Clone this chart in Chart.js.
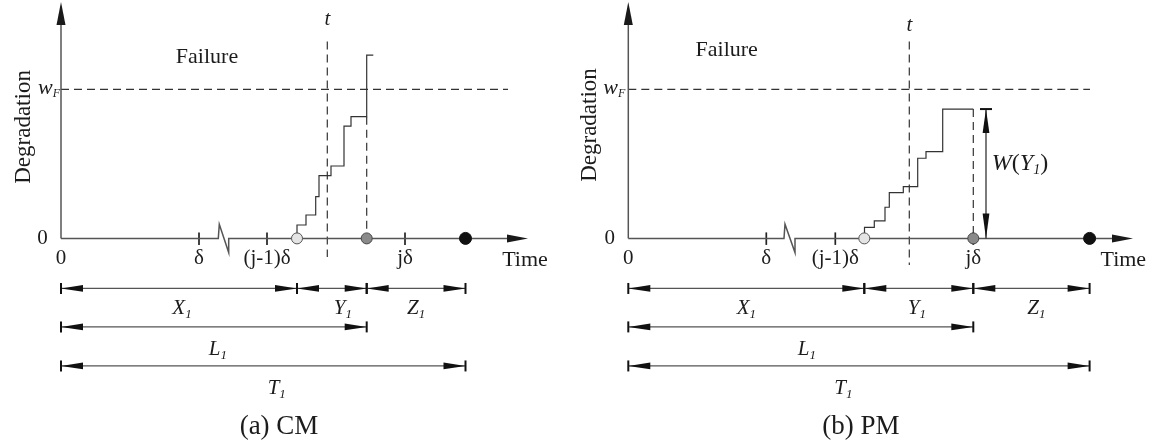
<!DOCTYPE html>
<html><head><meta charset="utf-8">
<script src="https://cdn.jsdelivr.net/npm/chart.js@4.4.0/dist/chart.umd.min.js"></script>
<style>
html,body{margin:0;padding:0;background:#fff;overflow:hidden}
#wrap{display:flex;width:1155px;height:447px}
canvas{display:block}
</style></head><body>
<div id="wrap"><canvas id="cm" width="577" height="447"></canvas><canvas id="pm" width="578" height="447"></canvas></div>
<script>
// ---------------- data ----------------
const panelCaptions = ['(a) CM', '(b) PM'];
const xTickLabels = ['0', 'δ', '(j-1)δ', 'jδ'];
const yAxisLabel = 'Degradation';
const xAxisLabel = 'Time';
const regionLabel = 'Failure';
const failureLevel = 10;                       // w_F

// (a) CM
const cmTickTimes = [0, 13.8, 20.6, 34.4];
const cmStepTimes  = [23.6, 23.6, 24.5, 25.47, 25.8, 27.0, 28.3, 29.0, 30.57, 31.23];
const cmStepLevels = [0, 0.90, 1.57, 2.80, 4.21, 4.86, 7.54, 8.17, 12.30, 12.30];
const cmEventTimes = [23.6, 30.57, 40.45];     // X1 end, L1 end, T1 end
const cmInspection = 26.63;                    // t
const cmBreak = [15.73, 16.77];
const cmAxisEnd = 46.7;
const cmThresholdEnd = 44.7;

// (b) PM
const pmTickTimes = [0, 13.8, 20.7, 34.5];
const pmStepTimes  = [23.62, 23.62, 24.6, 25.67, 26.1, 27.5, 28.94, 29.77, 31.44, 34.5];
const pmStepLevels = [0, 0.745, 1.17, 2.09, 3.07, 3.47, 5.38, 5.82, 8.68, 8.68];
const pmEventTimes = [23.6, 34.5, 46.13];
const pmInspection = 28.1;
const pmBreak = [15.57, 16.67];
const pmAxisEnd = 50.47;
const pmThresholdEnd = 46.17;

const intervalNames = ['X', 'Y', 'Z', 'L', 'T'];
const intervalIndex = '1';

// ---------------- layout / style ----------------
const serif = '"Liberation Serif", "Times New Roman", serif';
const ink = '#1c1c1c';
const rows = { x: -3.36, l: -5.94, t: -8.56, labX: -4.58, labL: -7.38, labT: -9.95, caption: -12.64, tick: -1.32 };

const panels = [
  { id: 'cm', xMin: -6.1, xMax: 51.6, ticks: cmTickTimes, stepT: cmStepTimes, stepY: cmStepLevels,
    ev: cmEventTimes, insp: cmInspection, brk: cmBreak, axisEnd: cmAxisEnd, thrEnd: cmThresholdEnd,
    caption: panelCaptions[0], capX: 21.8, failure: [14.6, 12.17], degr: [-3.7, 7.48], tY: 14.72,
    tBottom: -1.25, timeX: 46.4, labShift: { X: 0.3, Y: 1.1, Z: 0, L: 0.4, T: 1.35 }, wfX: -2.3, zeroX: -1.85, showW: false },
  { id: 'pm', xMin: -5.13, xMax: 52.67, ticks: pmTickTimes, stepT: pmStepTimes, stepY: pmStepLevels,
    ev: pmEventTimes, insp: pmInspection, brk: pmBreak, axisEnd: pmAxisEnd, thrEnd: pmThresholdEnd,
    caption: panelCaptions[1], capX: 23.27, failure: [9.84, 12.64], degr: [-3.83, 7.61], tY: 14.32,
    tBottom: -1.79, timeX: 49.5, labShift: { X: 0, Y: -0.2, Z: 0.5, L: 0.6, T: -1.55 }, wfX: -2.5, zeroX: -1.85, showW: true }
];

function fontOf(r) { return `${r.italic ? 'italic ' : ''}${r.size}px ${serif}`; }
function drawRuns(ctx, runs, x, yBase, align) {
  ctx.save(); ctx.fillStyle = ink; ctx.textBaseline = 'alphabetic'; ctx.textAlign = 'left';
  const w = runs.map(r => { ctx.font = fontOf(r); return ctx.measureText(r.t).width + (r.kern || 0); });
  const total = w.reduce((a, b) => a + b, 0);
  let cx = align === 'left' ? x : align === 'right' ? x - total : x - total / 2;
  runs.forEach((r, i) => { ctx.font = fontOf(r); ctx.fillText(r.t, cx, yBase + (r.dy || 0)); cx += w[i]; });
  ctx.restore();
}
function drawText(ctx, s, x, y, size, o = {}) {
  ctx.save();
  ctx.font = fontOf({ size, italic: o.italic });
  ctx.fillStyle = ink; ctx.textAlign = o.align || 'center'; ctx.textBaseline = 'middle';
  if (o.rotate) { ctx.translate(x, y); ctx.rotate(o.rotate); ctx.fillText(s, 0, 0); }
  else ctx.fillText(s, x, y);
  ctx.restore();
}
function head(ctx, tx, ty, dx, dy, len, hw, color) {
  const bx = tx - dx * len, by = ty - dy * len, nx = -dy, ny = dx;
  ctx.beginPath(); ctx.moveTo(tx, ty);
  ctx.lineTo(bx + nx * hw, by + ny * hw); ctx.lineTo(bx - nx * hw, by - ny * hw);
  ctx.closePath(); ctx.fillStyle = color; ctx.fill();
}
function subLabel(ctx, name, x, yMid, size) {
  drawRuns(ctx, [{ t: name, size, italic: true }, { t: intervalIndex, size: Math.round(size * 0.6), italic: true, dy: 4 }], x, yMid + size * 0.33, 'center');
}

const schematic = {
  id: 'schematic',
  beforeDatasetsDraw(chart) {
    const p = chart.config.options.plugins.schematic.panel;
    const ctx = chart.ctx, X = v => chart.scales.x.getPixelForValue(v), Y = v => chart.scales.y.getPixelForValue(v);
    ctx.save(); ctx.strokeStyle = '#222'; ctx.lineWidth = 1.7;
    p.ticks.slice(1).forEach(t => { ctx.beginPath(); ctx.moveTo(X(t), Y(0) - 6); ctx.lineTo(X(t), Y(0) + 6.5); ctx.stroke(); });
    ctx.restore();
  },
  afterDatasetsDraw(chart) {
    const p = chart.config.options.plugins.schematic.panel;
    const ctx = chart.ctx, X = v => chart.scales.x.getPixelForValue(v), Y = v => chart.scales.y.getPixelForValue(v);
    // axis arrowheads
    head(ctx, X(0), Y(15.87), 0, -1, 23, 4.5, '#1a1a1a');
    head(ctx, X(p.axisEnd), Y(0), 1, 0, 21, 4, '#1a1a1a');
    // dimension rows
    const [xe, le, te] = p.ev;
    const dim = (a, b, r) => {
      const xa = X(a), xb = X(b), y = Y(r);
      ctx.save(); ctx.strokeStyle = '#555'; ctx.lineWidth = 1.3;
      ctx.beginPath(); ctx.moveTo(xa, y); ctx.lineTo(xb, y); ctx.stroke();
      head(ctx, xa, y, -1, 0, 22, 3.4, '#111'); head(ctx, xb, y, 1, 0, 22, 3.4, '#111');
      ctx.strokeStyle = '#111'; ctx.lineWidth = 2;
      [xa, xb].forEach(xx => { ctx.beginPath(); ctx.moveTo(xx, y - 5.5); ctx.lineTo(xx, y + 5.5); ctx.stroke(); });
      ctx.restore();
    };
    dim(0, xe, rows.x); dim(xe, le, rows.x); dim(le, te, rows.x);
    dim(0, le, rows.l); dim(0, te, rows.t);
    const s = p.labShift;
    subLabel(ctx, intervalNames[0], X(xe / 2 + s.X), Y(rows.labX), 21);
    subLabel(ctx, intervalNames[1], X((xe + le) / 2 + s.Y), Y(rows.labX), 21);
    subLabel(ctx, intervalNames[2], X((le + te) / 2 + s.Z), Y(rows.labX), 21);
    subLabel(ctx, intervalNames[3], X(le / 2 + s.L), Y(rows.labL), 21);
    subLabel(ctx, intervalNames[4], X(te / 2 + s.T), Y(rows.labT), 21);
    // W(Y1) arrow
    if (p.showW) {
      const top = p.stepY[p.stepY.length - 1], wx = X(le + 1.27);
      ctx.save(); ctx.strokeStyle = '#333'; ctx.lineWidth = 1.3;
      ctx.beginPath(); ctx.moveTo(wx, Y(0)); ctx.lineTo(wx, Y(top)); ctx.stroke();
      ctx.strokeStyle = '#111'; ctx.lineWidth = 2;
      ctx.beginPath(); ctx.moveTo(wx - 6, Y(top)); ctx.lineTo(wx + 6, Y(top)); ctx.stroke();
      head(ctx, wx, Y(top), 0, -1, 24, 3.4, '#111'); head(ctx, wx, Y(0), 0, 1, 25, 3.4, '#111');
      ctx.restore();
      drawRuns(ctx, [{ t: 'W', size: 24, italic: true }, { t: '(', size: 24 }, { t: 'Y', size: 24, italic: true },
        { t: intervalIndex, size: 14, italic: true, dy: 4 }, { t: ')', size: 24 }], X(le + 1.85), Y(5.15) + 8, 'left');
    }
    // texts
    drawText(ctx, regionLabel, X(p.failure[0]), Y(p.failure[1]), 22);
    drawText(ctx, yAxisLabel, X(p.degr[0]), Y(p.degr[1]), 23, { rotate: -Math.PI / 2 });
    drawText(ctx, xTickLabels[0], X(p.zeroX), Y(0), 21);
    p.ticks.forEach((t, i) => drawText(ctx, xTickLabels[i], X(t), Y(rows.tick), 21));
    drawText(ctx, xAxisLabel, X(p.timeX), Y(rows.tick) + 2, 22);
    drawText(ctx, 't', X(p.insp), Y(p.tY), 21, { italic: true });
    drawRuns(ctx, [{ t: 'w', size: 22, italic: true }, { t: 'F', size: 12, italic: true, dy: 3 }], X(p.wfX), Y(failureLevel) + 5, 'left');
    drawText(ctx, p.caption, X(p.capX), Y(rows.caption), 27);
  }
};

function build(p) {
  const pts = (xs, ys) => xs.map((x, i) => ({ x, y: ys[i] }));
  const lastL = p.stepT.lastIndexOf(p.ev[1]);
  const dropTop = p.stepY[Math.max(lastL - 1, 0)];
  const axisPts = [{ x: 0, y: 0 }, { x: p.brk[0], y: 0 }, { x: p.brk[0] + 0.1, y: 0.95 }, { x: p.brk[1], y: -0.95 }, { x: p.brk[1], y: 0 }, { x: p.axisEnd - 1, y: 0 }];
  const line = (data, extra) => Object.assign({ data, pointRadius: 0, borderWidth: 1.2, borderColor: '#333', showLine: true, clip: false, fill: false, tension: 0 }, extra);
  return new Chart(document.getElementById(p.id), {
    type: 'line',
    data: {
      datasets: [
        { data: p.ev.map(x => ({ x, y: 0 })), showLine: false, pointRadius: [5.5, 5.5, 6], pointBorderWidth: 1,
          pointBackgroundColor: ['#e4e4e4', '#8a8a8a', '#111'], pointBorderColor: ['#555', '#444', '#111'], order: 0, clip: false },
        line(pts(p.stepT, p.stepY), { stepped: 'before', borderColor: '#333', order: 1 }),
        line(axisPts, { borderColor: '#555', borderWidth: 1.5, order: 2 }),
        line([{ x: 0, y: 0 }, { x: 0, y: 14.6 }], { borderColor: '#555', borderWidth: 1.5, order: 2 }),
        line([{ x: 0, y: failureLevel }, { x: p.thrEnd, y: failureLevel }], { borderDash: [8, 5], order: 3 }),
        line([{ x: p.insp, y: 13.21 }, { x: p.insp, y: p.tBottom }], { borderDash: [8, 5], order: 3 }),
        line([{ x: p.ev[1], y: dropTop }, { x: p.ev[1], y: 0 }], { borderDash: [8, 5], order: 3 })
      ]
    },
    options: {
      responsive: false, animation: false, events: [],
      layout: { padding: 0, autoPadding: false },
      scales: {
        x: { type: 'linear', min: p.xMin, max: p.xMax, display: false },
        y: { type: 'linear', min: -14, max: 16, display: false }
      },
      plugins: { legend: { display: false }, tooltip: { enabled: false }, schematic: { panel: p } }
    },
    plugins: [schematic]
  });
}
panels.forEach(build);
</script>
</body></html>
